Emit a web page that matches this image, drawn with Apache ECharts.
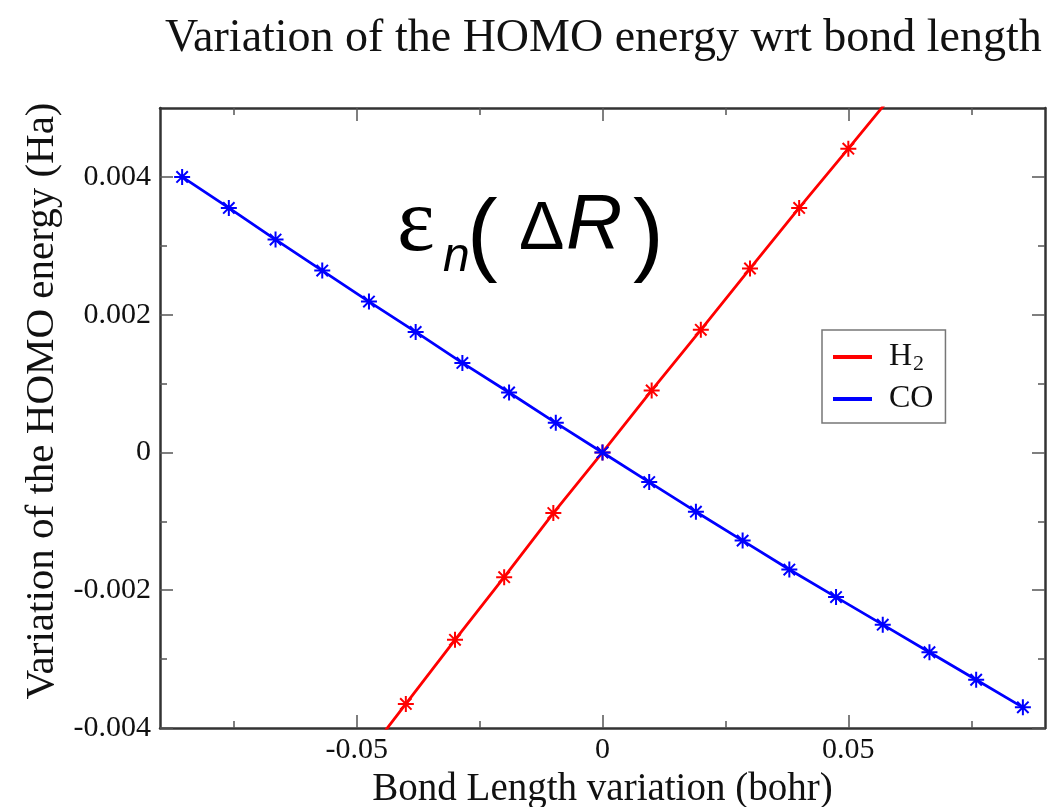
<!DOCTYPE html>
<html>
<head>
<meta charset="utf-8">
<script src="https://cdn.jsdelivr.net/npm/echarts@6/dist/echarts.min.js"></script>
<style>
  html, body { margin: 0; padding: 0; background: #ffffff; }
  #chart { width: 1064px; height: 807px; }
</style>
</head>
<body>
<div id="chart"></div>
<script>
// ---- data ----
const seriesNames = ['H2', 'CO'];

const h2X = [-0.05, -0.04, -0.03, -0.02, -0.01, 0, 0.01, 0.02, 0.03, 0.04, 0.05, 0.06];
const h2Y = [-0.00458, -0.00365, -0.00272, -0.00181, -0.00088, 0, 0.0009, 0.00178, 0.00267, 0.00355, 0.00441, 0.00528];

const coX = [-0.0855, -0.076, -0.0665, -0.057, -0.0475, -0.038, -0.0285, -0.019, -0.0095, 0,
             0.0095, 0.019, 0.0285, 0.038, 0.0475, 0.057, 0.0665, 0.076, 0.0855];
const coY = [0.0040, 0.00355, 0.00309, 0.00264, 0.00219, 0.00175, 0.0013, 0.00087, 0.00043, 0,
             -0.00043, -0.00086, -0.00128, -0.0017, -0.0021, -0.0025, -0.0029, -0.0033, -0.0037];

const xMajorTicks = [-0.05, 0, 0.05];
const xMajorLabels = ['-0.05', '0', '0.05'];
const xMinorTicks = [-0.075, -0.025, 0.025, 0.075];
const yMajorTicks = [-0.004, -0.002, 0, 0.002, 0.004];
const yMajorLabels = ['-0.004', '-0.002', '0', '0.002', '0.004'];
const yMinorTicks = [-0.003, -0.001, 0.001, 0.003];

const xRange = [-0.09, 0.09];
const yRange = [-0.004, 0.005];

const titleText = 'Variation of the HOMO energy wrt bond length';
const xName = 'Bond Length variation (bohr)';
const yName = 'Variation of the HOMO energy (Ha)';

// ---- build chart ----
const SERIF = '"Liberation Serif", "Times New Roman", serif';
const SANS = '"Liberation Sans", Arial, sans-serif';
const frameColor = '#333333';
const tickColor = '#555555';

function zip(xs, ys) { return xs.map((x, i) => [x, ys[i]]); }
function labelFor(vals, labels) {
  return function (v) {
    for (let i = 0; i < vals.length; i++) if (Math.abs(vals[i] - v) < 1e-9) return labels[i];
    return '';
  };
}

const asterisk = 'path://M8,0L8,16M0,8L16,8M2.3,2.3L13.7,13.7M13.7,2.3L2.3,13.7';

function xAxisDef(position, ticks, len, withLabels, withLine) {
  return {
    type: 'value', position: position, min: xRange[0], max: xRange[1],
    axisLine: { show: withLine, onZero: false, lineStyle: { color: frameColor, width: 2.5 } },
    axisTick: { show: true, inside: true, length: len, customValues: ticks, lineStyle: { color: tickColor, width: 1.5 } },
    axisLabel: withLabels ? {
      show: true, customValues: xMajorTicks, formatter: labelFor(xMajorTicks, xMajorLabels),
      margin: 7, color: '#111', fontFamily: SERIF, fontSize: 30
    } : { show: false },
    splitLine: { show: false },
    name: withLabels ? xName : '',
    nameLocation: 'middle', nameGap: 37,
    nameTextStyle: { fontFamily: SERIF, fontSize: 39, color: '#111' }
  };
}
function yAxisDef(position, ticks, len, withLabels, withLine) {
  return {
    type: 'value', position: position, min: yRange[0], max: yRange[1],
    axisLine: { show: withLine, onZero: false, lineStyle: { color: frameColor, width: 2.5 } },
    axisTick: { show: true, inside: true, length: len, customValues: ticks, lineStyle: { color: tickColor, width: 1.5 } },
    axisLabel: withLabels ? {
      show: true, customValues: yMajorTicks, formatter: labelFor(yMajorTicks, yMajorLabels),
      margin: 9, color: '#111', fontFamily: SERIF, fontSize: 30
    } : { show: false },
    splitLine: { show: false },
    name: withLabels ? yName : '',
    nameLocation: 'middle', nameGap: 97,
    nameTextStyle: { fontFamily: SERIF, fontSize: 41, color: '#111', padding: [0, 0, 0, 34] }
  };
}

const chart = echarts.init(document.getElementById('chart'), null, { renderer: 'canvas' });

const seriesColors = { H2: '#ff0000', CO: '#0000ff' };

const option = {
  backgroundColor: '#ffffff',
  animation: false,
  title: {
    text: titleText, left: 165, top: 16, padding: 0,
    textStyle: { fontFamily: SERIF, fontSize: 46, fontWeight: 'normal', color: '#111' }
  },
  grid: { left: 160, right: 19, top: 108, bottom: 79, containLabel: false, outerBoundsMode: 'none' },
  xAxis: [
    xAxisDef('bottom', xMajorTicks, 13, true, true),
    xAxisDef('bottom', xMinorTicks, 7, false, false),
    xAxisDef('top', xMajorTicks, 13, false, true),
    xAxisDef('top', xMinorTicks, 7, false, false)
  ],
  yAxis: [
    yAxisDef('left', yMajorTicks, 13, true, true),
    yAxisDef('left', yMinorTicks, 7, false, false),
    yAxisDef('right', yMajorTicks, 13, false, true),
    yAxisDef('right', yMinorTicks, 7, false, false)
  ],
  legend: {
    orient: 'vertical', left: 822, top: 330,
    data: seriesNames,
    icon: 'rect', itemWidth: 37, itemHeight: 2, itemGap: 8,
    padding: [11, 12, 8, 11],
    borderColor: '#777', borderWidth: 1.5, backgroundColor: '#fff',
    formatter: function (name) {
      return name === 'H2' ? '{n|H}{s|2}' : '{n|' + name + '}';
    },
    textStyle: {
      padding: [0, 0, 0, 13],
      rich: {
        n: { fontFamily: SERIF, fontSize: 32, color: '#111', lineHeight: 36 },
        s: { fontFamily: SERIF, fontSize: 22, color: '#111', lineHeight: 36, verticalAlign: 'bottom', padding: [0, 0, 0, 1] }
      }
    }
  },
  series: [
    {
      name: 'H2', type: 'line', xAxisIndex: 0, yAxisIndex: 0,
      data: zip(h2X, h2Y), clip: true,
      symbol: asterisk, symbolSize: 16, showSymbol: true,
      lineStyle: { color: seriesColors.H2, width: 2.8 },
      itemStyle: { color: seriesColors.H2, borderColor: seriesColors.H2, borderWidth: 2 },
      emphasis: { disabled: true }, z: 2
    },
    {
      name: 'CO', type: 'line', xAxisIndex: 0, yAxisIndex: 0,
      data: zip(coX, coY), clip: true,
      symbol: asterisk, symbolSize: 16, showSymbol: true,
      lineStyle: { color: seriesColors.CO, width: 2.8 },
      itemStyle: { color: seriesColors.CO, borderColor: seriesColors.CO, borderWidth: 2 },
      emphasis: { disabled: true }, z: 3
    }
  ],
  graphic: [
    { type: 'text', left: 397, top: 181, style: { text: 'ε', font: '90px ' + SERIF, fill: '#000' } },
    { type: 'text', left: 443, top: 234, style: { text: 'n', font: 'italic 48px ' + SANS, fill: '#000' } },
    { type: 'text', left: 467, top: 193, style: { text: '(', font: '92px ' + SANS, fill: '#000' } },
    { type: 'text', left: 519, top: 196, style: { text: 'Δ', font: '68px ' + SANS, fill: '#000' } },
    { type: 'text', left: 566, top: 187, style: { text: 'R', font: 'italic 78px ' + SANS, fill: '#000' } },
    { type: 'text', left: 633, top: 193, style: { text: ')', font: '92px ' + SANS, fill: '#000' } }
  ]
};

chart.setOption(option);
</script>
</body>
</html>
